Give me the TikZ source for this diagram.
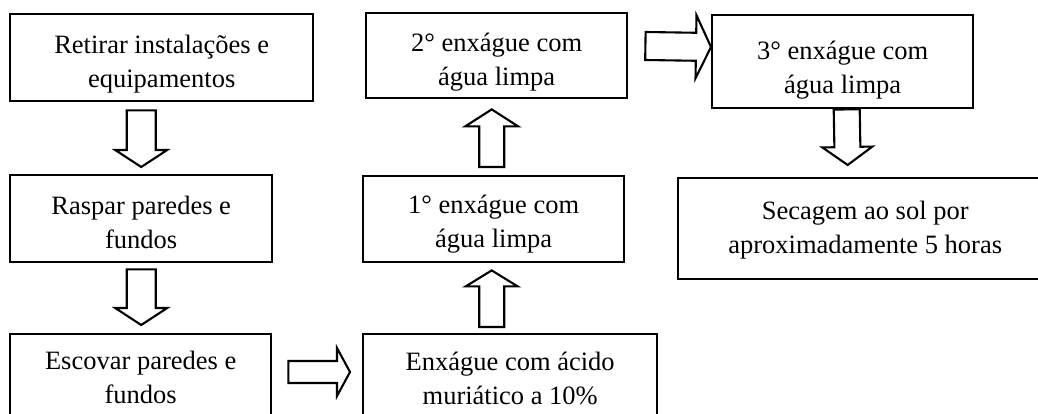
\documentclass[tikz,border=0pt]{standalone}
\usepackage{fontspec}
\setmainfont{Liberation Serif}
\usetikzlibrary{calc}

% hollow block arrow: start, tip, half shaft, half head, head length
\newcommand{\blockarrow}[5]{%
  \coordinate (ba-s) at (#1);
  \coordinate (ba-t) at (#2);
  \coordinate (ba-h) at ($(ba-t)!#5!(ba-s)$);
  \draw[hollow] ($(ba-s)!#3!90:(ba-t)$) -- ($(ba-h)!#3!90:(ba-t)$) -- ($(ba-h)!#4!90:(ba-t)$)
    -- (ba-t) -- ($(ba-h)!#4!-90:(ba-t)$) -- ($(ba-h)!#3!-90:(ba-t)$) -- ($(ba-s)!#3!-90:(ba-t)$) -- cycle;}

\begin{document}
\begin{tikzpicture}[x=1pt,y=-1pt,
    box/.style={draw,line width=2.4pt,anchor=north west,align=center,inner xsep=0pt,inner ysep=0pt,
      text height=73pt,font=\fontsize{26.5}{34}\selectfont},
    hollow/.style={draw,line width=2.1pt,line join=miter}]
\useasboundingbox (0,0) rectangle (1038,414);
\clip (0,0) rectangle (1038,414);
\node[box,minimum width=303pt,text depth=14pt] (retirar) at (9,13) {Retirar instalações e\\equipamentos};
\node[box,minimum width=262pt,text depth=14pt] (raspar) at (9,174) {Raspar paredes e\\fundos};
\node[box,minimum width=261pt,text height=69pt,text depth=31pt] (escovar) at (9,333) {Escovar paredes e\\fundos};
\node[box,minimum width=294pt,text height=70pt,text depth=30pt] (enx) at (362,333) {Enxágue com ácido\\muriático a 10\%};
\node[box,minimum width=261pt,text height=71pt,text depth=15pt] (prim) at (362,175) {1° enxágue com\\água limpa};
\node[box,minimum width=261pt,text height=72pt,text depth=13pt] (seg) at (365,12) {2° enxágue com\\água limpa};
\node[box,minimum width=261pt,text height=78pt,text depth=15pt] (terc) at (711,14) {3° enxágue com\\água limpa};
\node[box,minimum width=374pt,text height=75pt,text depth=26pt] (sec) at (677,177) {Secagem ao sol por\\aproximadamente 5 horas};
% arrows between the steps
\blockarrow{$(raspar.north |- retirar.south)+(0,8)$}{$(raspar.north)+(0,-7)$}{14.5pt}{26pt}{17pt}
\blockarrow{$(raspar.south)+(0,6)$}{$(escovar.north -| raspar.south)+(0,-8)$}{14.5pt}{26pt}{17pt}
\blockarrow{$(escovar.north east)+(16,39)$}{$(enx.north west)+(-12,39)$}{11pt}{24pt}{13pt}
\blockarrow{$(enx.north -| prim.south)+(-2,-6)$}{$(prim.south)+(-2,7)$}{12.5pt}{26pt}{16pt}
\blockarrow{$(prim.north)+(-2,-8)$}{$(seg.south -| prim.north)+(-2,10)$}{12.5pt}{26.5pt}{17pt}
\blockarrow{$(seg.north east)+(17,34)$}{$(terc.north west)+(0,33)$}{14pt}{31.5pt}{15pt}
\blockarrow{$(terc.south)+(4,0)$}{$(sec.north -| terc.south)+(5,-12)$}{13pt}{25pt}{18pt}
\end{tikzpicture}
\end{document}
